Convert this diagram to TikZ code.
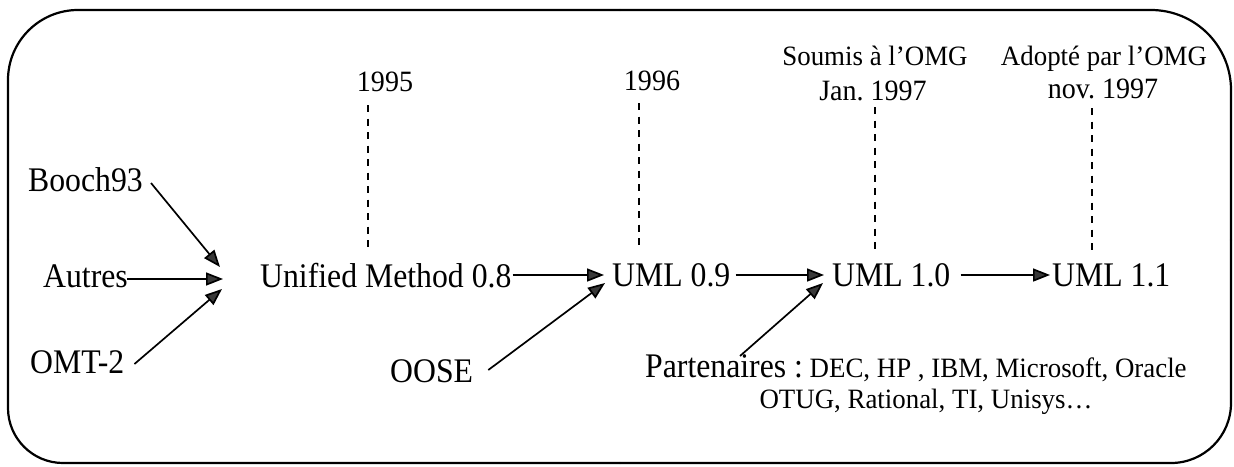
\documentclass[tikz,border=0pt]{standalone}
\usepackage{fontspec}
\setmainfont{Liberation Serif}
\newfontfamily\tallserif[FakeStretch=0.92]{Liberation Serif}
\newfontfamily\noteserif[FakeStretch=0.96]{Liberation Serif}
\newfontfamily\dateserif[FakeStretch=0.95]{Liberation Serif}
\usetikzlibrary{arrows.meta}
\newcommand{\bigtxt}{\tallserif\fontsize{34.5}{40}\selectfont}
\newcommand{\smalltxt}{\noteserif\fontsize{28}{33}\selectfont}
\newcommand{\datetxt}{\dateserif\fontsize{29.5}{35}\selectfont}
\frenchspacing
\tikzset{
  frame/.style={line width=2.2pt, line cap=round, line join=round},
  label/.style={inner sep=0pt, font=\bigtxt},
  note/.style={inner sep=0pt, font=\smalltxt},
  datenote/.style={inner sep=0pt, font=\datetxt},
  arr/.style={line width=1.7pt, -{Triangle[length=17pt,width=13pt,fill=black!78]}},
  tick/.style={line width=2pt, dash pattern=on 7pt off 6.5pt},
}
\begin{document}
\begin{tikzpicture}[x=1pt,y=-1pt]
\useasboundingbox (0,0) rectangle (1234,466);

% rounded frame, each corner with its own radius
\draw[frame,rounded corners=70pt] (8,240) -- (8,10) -- (620,10);
\draw[frame,rounded corners=80pt] (620,10) -- (1231,10) -- (1231,240);
\draw[frame,rounded corners=60pt] (1231,240) -- (1231,463) -- (620,463);
\draw[frame,rounded corners=55pt] (620,463) -- (8,463) -- (8,240);

% methods and versions
\node[label, anchor=base west] (booch) at (28,191) {Booch93};
\node[label, anchor=base west] (autres) at (43,287) {Autres};
\node[label, anchor=base west] (omt) at (30,373) {OMT-2};
\node[label, anchor=base west] (um) at (260,287) {Unified Method 0.8};
\node[label, anchor=base west] (uml09) at (612,286) {UML 0.9};
\node[label, anchor=base west] (uml10) at (832,286) {UML 1.0};
\node[label, anchor=base west] (uml11) at (1052,286) {UML 1.1};
\node[label, anchor=base west] (oose) at (390,382) {OOSE};
\node[note, anchor=base west] (part) at (645,377) {{\bigtxt Partenaires :} DEC, HP , IBM, Microsoft, Oracle};
\node[note, anchor=base] (part2) at (926,408) {OTUG, Rational, TI, Unisys…};

% dates
\node[datenote, anchor=base] (y95) at (385,91) {1995};
\node[datenote, anchor=base] (y96) at (652,90) {1996};
\node[note, anchor=base] (soumis) at (875,65) {Soumis à l’OMG};
\node[datenote, anchor=base] (jan) at (873,100) {Jan. 1997};
\node[note, anchor=base] (adopte) at (1104,65) {Adopté par l’OMG};
\node[datenote, anchor=base] (nov) at (1103,98) {nov. 1997};

% date markers
\draw[tick] ([shift={(-17,14)}]y95.base) -- ([shift={(108,-39)}]um.base west);
\draw[tick] ([shift={(-13,13)}]y96.base) -- ([shift={(27,-38)}]uml09.base west);
\draw[tick] ([shift={(2,7)}]jan.base) -- ([shift={(43,-34)}]uml10.base west);
\draw[tick] ([shift={(-11,10)}]nov.base) -- ([shift={(40,-33)}]uml11.base west);

% inputs of the Unified Method
\draw[arr] ([shift={(8,-8)}]booch.base east) -- ([shift={(-40,-20)}]um.base west);
\draw[arr] ([shift={(-1,-8)}]autres.base east) -- ([shift={(-37,-8)}]um.base west);
\draw[arr] ([shift={(10,-9)}]omt.base east) -- ([shift={(-38,2)}]um.base west);

% evolution
\draw[arr] ([shift={(1,-12)}]um.base east) -- ([shift={(-8,-11)}]uml09.base west);
\draw[arr] ([shift={(15,-12)}]oose.base east) -- ([shift={(-7,-3)}]uml09.base west);
\draw[arr] ([shift={(5,-11)}]uml09.base east) -- ([shift={(-8,-11)}]uml10.base west);
\draw[arr] ([shift={(95,-21)}]part.base west) -- ([shift={(-9,-3)}]uml10.base west);
\draw[arr] ([shift={(10,-11)}]uml10.base east) -- ([shift={(-2,-11)}]uml11.base west);
\end{tikzpicture}
\end{document}
